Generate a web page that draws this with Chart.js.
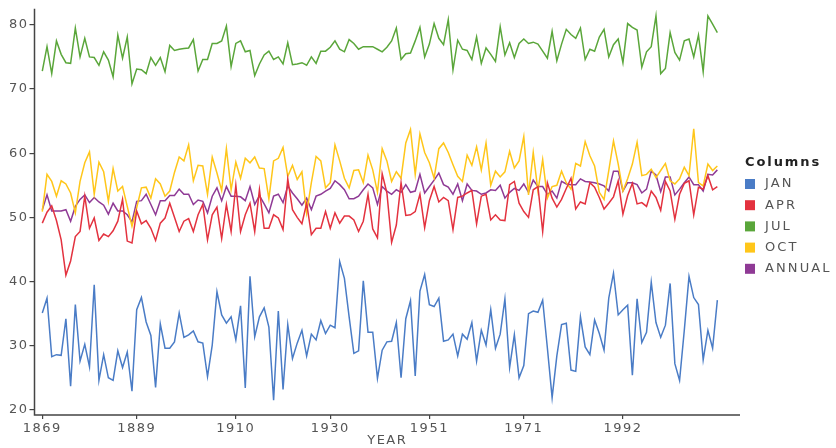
<!DOCTYPE html>
<html>
<head>
<meta charset="utf-8">
<script src="https://cdn.jsdelivr.net/npm/chart.js@4/dist/chart.umd.min.js"></script>
<style>
  html, body { margin: 0; padding: 0; background: #fff; }
  #wrap { width: 836px; height: 448px; position: relative; }
</style>
</head>
<body>
<div id="wrap"><canvas id="tempChart"></canvas></div>
<script>
// monthly / annual mean temperatures, one value per year from 1869
const FIRST_YEAR = 1869;
const X_TICKS = [1869, 1889, 1910, 1930, 1951, 1971, 1992];
const Y_TICKS = [20, 30, 40, 50, 60, 70, 80];

const JAN = [
  35.1, 37.4, 28.3, 28.6, 28.5, 34.2, 23.7, 36.4, 27.6, 30.2, 26.7, 39.5, 24.6, 28.6, 25.0, 24.6, 29.2, 26.6, 29.0, 22.9,
  35.6, 37.5, 33.7, 31.6, 23.5, 33.4, 29.6, 29.6, 30.6, 35.1, 31.3, 31.7, 32.3, 30.6, 30.4, 25.2, 30.1, 38.4,
  34.8, 33.5, 34.5, 30.9, 36.2, 23.4, 40.8, 31.4, 34.5, 35.9, 32.9, 21.5, 35.4, 23.2, 33.3, 28.0, 30.4, 32.4, 28.4, 31.8,
  30.9, 33.9, 31.9, 33.2, 32.8, 43.1, 40.5, 34.5, 28.8, 29.2, 40.1, 32.1, 32.1, 24.9, 29.3, 30.6, 30.7,
  33.6, 25.0, 34.2, 37.0, 25.3, 38.5, 41.1, 36.4, 36.1, 37.4, 30.7, 30.9, 31.8, 28.4, 31.8, 31.0, 33.6, 27.6, 32.4, 30.1,
  35.6, 29.6, 31.8, 37.3, 26.6, 31.7, 25.0, 26.9, 35.0, 35.4, 35.2, 37.1, 29.6, 21.9, 28.4, 33.3, 33.5,
  26.2, 26.0, 34.5, 29.8, 28.6, 34.0, 31.9, 29.3, 37.4, 41.3, 34.8, 35.6, 36.3, 25.4, 37.3, 30.5, 32.1, 39.9, 33.6, 31.3,
  33.2, 39.7, 27.2, 24.6, 32.4, 40.8, 37.5, 36.4, 27.8, 32.4, 29.6, 37.1
];
const APR = [
  49.1, 50.8, 51.8, 49.5, 46.5, 41.0, 43.2, 47.0, 47.8, 53.3, 48.3, 49.9, 46.4, 47.4, 47.0, 47.9, 49.4, 52.8, 46.3, 46.0,
  51.0, 49.0, 49.5, 48.3, 46.4, 49.1, 49.9, 52.2, 50.0, 47.8, 49.4, 49.8, 47.8, 50.4, 52.0, 46.5, 50.4, 51.6,
  46.7, 52.0, 47.8, 55.0, 47.8, 50.4, 52.2, 47.8, 54.3, 48.3, 48.3, 50.4, 49.9, 48.1, 56.0, 51.2, 50.0, 49.0, 52.2, 47.3,
  48.3, 48.3, 50.9, 48.3, 50.7, 49.1, 50.2, 50.2, 49.6, 47.8, 49.4, 53.6, 48.2, 46.8, 56.8, 53.8, 46.1,
  48.8, 55.4, 50.3, 50.4, 50.9, 53.6, 48.4, 52.6, 54.8, 52.4, 53.1, 52.6, 48.1, 53.1, 53.3, 53.8, 54.2, 49.0, 53.3, 53.6,
  49.6, 50.4, 49.6, 49.5, 55.1, 55.6, 52.2, 50.9, 50.0, 54.3, 54.8, 47.8, 55.4, 53.0, 51.6, 52.8, 54.5,
  56.1, 51.3, 52.4, 52.1, 55.4, 54.7, 53.1, 51.3, 52.2, 53.2, 55.7, 50.5, 53.4, 55.3, 52.1, 52.3, 51.7, 54.1, 53.1, 51.1,
  55.6, 54.1, 49.7, 53.6, 55.3, 55.7, 50.4, 54.7, 54.4, 56.5, 54.3, 54.8
];
const JUL = [
  72.8, 76.6, 72.4, 77.5, 75.4, 74.1, 74.0, 79.5, 75.0, 77.9, 75.0, 74.9, 73.7, 75.8, 74.5, 71.9, 78.4, 74.8, 78.1, 70.8,
  73.1, 73.0, 72.4, 74.9, 73.7, 74.9, 72.7, 76.8, 76.0, 76.2, 76.3, 76.4, 77.7, 72.8, 74.6, 74.6, 77.1, 77.1,
  77.5, 79.8, 73.5, 77.1, 77.5, 75.8, 76.0, 72.1, 73.9, 75.3, 75.9, 74.6, 75.0, 73.9, 77.2, 73.8, 73.9, 74.1, 73.7, 75.0,
  74.0, 75.9, 75.9, 76.5, 77.5, 76.2, 75.8, 77.7, 77.1, 76.2, 76.6, 76.6, 76.6, 76.2, 75.8, 76.5, 77.5,
  79.5, 74.6, 75.5, 75.6, 77.5, 79.6, 75.0, 77.0, 80.2, 77.9, 76.9, 80.8, 73.0, 77.6, 76.2, 76.0, 74.6, 78.1, 74.0, 76.4,
  75.4, 74.3, 79.7, 75.3, 77.2, 74.9, 77.1, 77.8, 77.1, 77.3, 77.0, 75.9, 74.8, 79.0, 74.4, 77.0, 79.3,
  78.5, 77.9, 79.5, 74.6, 76.2, 75.9, 78.1, 79.3, 75.0, 76.9, 77.8, 74.1, 80.2, 79.6, 79.2, 73.4, 75.8, 76.6, 81.4, 72.4,
  73.2, 78.8, 75.7, 74.5, 77.5, 77.8, 75.0, 78.4, 72.7, 81.4, 80.1, 78.8
];
const OCT = [
  50.9, 56.7, 55.6, 53.3, 55.7, 55.2, 53.8, 50.7, 55.6, 58.5, 60.2, 53.6, 58.6, 57.1, 52.5, 57.6, 54.1, 54.8, 51.7, 48.6,
  51.5, 54.6, 54.7, 53.0, 56.0, 55.2, 53.3, 54.1, 57.0, 59.4, 58.8, 61.3, 55.7, 58.1, 58.0, 53.6, 59.4, 56.9,
  54.2, 60.7, 54.3, 58.6, 56.1, 59.2, 58.5, 59.4, 57.7, 57.6, 52.9, 58.8, 59.2, 60.9, 56.4, 58.1, 55.9, 57.1, 50.7, 55.4,
  59.5, 58.8, 54.6, 55.4, 61.3, 58.8, 56.1, 54.6, 57.3, 57.4, 55.4, 59.7, 57.4, 53.9, 60.7, 58.8, 55.6,
  57.1, 56.1, 61.6, 63.7, 56.7, 63.0, 60.1, 58.5, 56.1, 60.7, 61.6, 60.1, 58.2, 56.4, 55.6, 59.7, 58.1, 61.0, 57.4, 61.6,
  55.0, 57.2, 56.3, 57.1, 60.3, 57.7, 58.8, 62.6, 53.5, 60.1, 54.1, 59.0, 53.0, 54.8, 55.0, 57.2, 55.4,
  54.4, 58.4, 58.0, 61.8, 59.6, 58.0, 53.9, 52.8, 57.3, 61.9, 58.3, 54.1, 56.0, 58.3, 61.7, 56.5, 56.7, 57.5, 56.2, 57.3,
  58.4, 55.7, 55.2, 56.0, 57.8, 56.5, 63.8, 55.4, 54.9, 58.3, 57.3, 58.0
];
const ANNUAL = [
  51.2, 53.5, 51.0, 51.0, 51.0, 51.2, 49.4, 51.7, 52.8, 53.5, 52.3, 53.1, 52.4, 51.9, 50.5, 52.2, 51.0, 51.0, 50.4, 49.3,
  52.5, 52.6, 53.6, 52.0, 50.4, 52.6, 52.6, 53.4, 53.4, 54.4, 53.6, 53.6, 52.0, 52.7, 52.5, 50.7, 53.3, 54.6,
  52.6, 54.8, 53.3, 53.3, 53.2, 52.6, 54.8, 52.0, 53.4, 52.1, 50.7, 53.3, 53.6, 52.3, 54.9, 53.8, 52.9, 51.9, 53.0, 51.2,
  53.3, 53.6, 54.1, 54.5, 55.7, 55.1, 54.3, 52.9, 52.9, 53.3, 54.3, 55.2, 54.6, 52.0, 54.8, 54.1, 53.6,
  54.3, 53.9, 55.1, 53.9, 54.1, 56.7, 53.8, 54.8, 55.8, 56.9, 55.1, 54.7, 53.6, 55.2, 52.6, 55.2, 54.2, 54.1, 53.6, 53.8,
  54.3, 54.2, 55.0, 53.0, 53.9, 54.5, 54.2, 55.2, 53.9, 55.8, 54.8, 54.8, 53.6, 54.1, 53.0, 55.6, 55.2,
  55.1, 55.1, 56.0, 55.6, 55.5, 55.4, 55.2, 54.9, 54.1, 57.2, 57.2, 54.1, 55.4, 55.4, 55.1, 53.8, 54.4, 57.2, 56.6, 54.0,
  56.3, 56.3, 53.5, 54.4, 55.4, 56.3, 55.1, 55.1, 54.1, 56.7, 56.6, 57.4
];

const YEARS = JAN.map((_, i) => FIRST_YEAR + i);

const SERIES = [
  { label: "JAN", data: JAN, color: "#4a7cc6" },
  { label: "APR", data: APR, color: "#e3323f" },
  { label: "JUL", data: JUL, color: "#5aa63a" },
  { label: "OCT", data: OCT, color: "#ffc61a" },
  { label: "ANNUAL", data: ANNUAL, color: "#8f3a95" }
];

const FONT = "'DejaVu Sans', Verdana, sans-serif";
const TEXT_COLOR = "#555";
const AXIS_COLOR = "#444";

// the reference text is drawn a bit wide, so spread the letters
const spacing = {
  id: "spacing",
  beforeDraw(chart) {
    chart.ctx.letterSpacing = "1.5px";
  }
};

// plain axis lines along the left and bottom of the plot
const axisLines = {
  id: "axisLines",
  afterDraw(chart) {
    const a = chart.chartArea;
    const ctx = chart.ctx;
    ctx.save();
    ctx.strokeStyle = AXIS_COLOR;
    ctx.lineWidth = 1.5;
    ctx.beginPath();
    ctx.moveTo(a.left, a.top);
    ctx.lineTo(a.left, a.bottom);
    ctx.lineTo(a.right, a.bottom);
    ctx.stroke();
    ctx.restore();
  }
};

const sideLegend = {
  id: "sideLegend",
  afterDraw(chart) {
    const ctx = chart.ctx;
    ctx.save();
    ctx.letterSpacing = "1.9px";
    ctx.textBaseline = "middle";
    ctx.textAlign = "left";
    ctx.font = "bold 13px " + FONT;
    ctx.fillStyle = "#222";
    ctx.fillText("Columns", 745, 163);
    ctx.letterSpacing = "2.1px";
    ctx.font = "13px " + FONT;
    chart.data.datasets.forEach(function (ds, i) {
      const y = 184 + i * 21.2;
      ctx.fillStyle = ds.borderColor;
      ctx.fillRect(745, y - 5, 10, 10);
      ctx.fillStyle = TEXT_COLOR;
      ctx.fillText(ds.label, 765, y);
    });
    ctx.restore();
  }
};

document.addEventListener("DOMContentLoaded", function () {
  const ctx = document.getElementById("tempChart");
  new Chart(ctx.getContext("2d"), {
    type: "line",
    data: {
      labels: YEARS,
      datasets: SERIES.map(function (s) {
        return {
          label: s.label,
          data: s.data,
          borderColor: s.color,
          backgroundColor: s.color,
          borderWidth: 1.5,
          pointRadius: 0,
          tension: 0,
          fill: false
        };
      })
    },
    options: {
      responsive: true,
      maintainAspectRatio: false,
      animation: false,
      layout: { padding: { left: 0, right: 96, top: 8, bottom: 0 } },
      plugins: {
        legend: { display: false },
        tooltip: { enabled: false }
      },
      scales: {
        x: {
          type: "linear",
          min: 1867.35,
          max: 2016.8,
          afterBuildTicks: function (scale) {
            scale.ticks = X_TICKS.map(function (v) { return { value: v }; });
          },
          afterFit: function (scale) { scale.height = 33; },
          border: { display: false },
          grid: { display: true, drawOnChartArea: false, drawTicks: true, tickLength: 4, color: AXIS_COLOR, lineWidth: 1.2 },
          ticks: {
            color: TEXT_COLOR,
            font: { family: FONT, size: 13 },
            padding: 2,
            maxRotation: 0,
            autoSkip: false,
            callback: function (v) { return String(v); }
          },
          title: {
            display: true,
            text: "YEAR",
            color: TEXT_COLOR,
            font: { family: FONT, size: 13 },
            padding: { top: 0, bottom: 0 }
          }
        },
        y: {
          min: 19.2,
          max: 82.5,
          afterBuildTicks: function (scale) {
            scale.ticks = Y_TICKS.map(function (v) { return { value: v }; });
          },
          afterFit: function (scale) { scale.width = 34.5; },
          border: { display: false },
          grid: { display: true, drawOnChartArea: false, drawTicks: true, tickLength: 5, color: AXIS_COLOR, lineWidth: 1.2 },
          ticks: {
            color: TEXT_COLOR,
            font: { family: FONT, size: 13 },
            padding: 1
          }
        }
      }
    },
    plugins: [spacing, axisLines, sideLegend]
  });
});
</script>
</body>
</html>
